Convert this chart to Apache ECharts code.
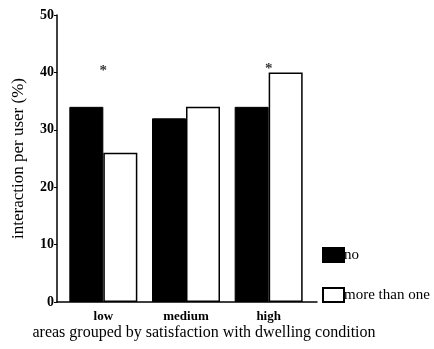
<!DOCTYPE html>
<html>
<head>
<meta charset="utf-8">
<script src="https://cdn.jsdelivr.net/npm/echarts@6/dist/echarts.min.js"></script>
<style>
  html, body { margin: 0; padding: 0; background: #fff; }
  #chart { width: 434px; height: 349px; }
</style>
</head>
<body>
<div id="chart"></div>
<script>
  // data
  var categories = ['low', 'medium', 'high']
  var noValues = [34, 32, 34]
  var moreValues = [26, 34, 40]
  var starValues = [40.9, null, 41.2]
  var yTicks = [0, 10, 20, 30, 40, 50]

  var serif = 'Liberation Serif, DejaVu Serif, serif'
  var chart = echarts.init(document.getElementById('chart'))

  chart.setOption({
    animation: false,
    textStyle: { fontFamily: serif, color: '#000' },
    grid: [
      { left: 62, right: 124, top: 15, bottom: 47 },
      { left: 57, right: 117, top: 15, bottom: 47 }
    ],
    legend: {
      orient: 'vertical',
      left: 322,
      top: 247,
      itemWidth: 21,
      itemHeight: 14,
      itemGap: 24,
      padding: 0,
      textStyle: { fontFamily: serif, fontSize: 15, color: '#000', padding: [0, 0, 0, -5] },
      data: [
        { name: 'no', icon: 'rect' },
        { name: 'more than one', icon: 'rect' }
      ]
    },
    xAxis: [{
      type: 'category',
      gridIndex: 0,
      data: categories,
      axisLine: { show: false },
      axisTick: { show: false },
      axisLabel: { fontFamily: serif, fontSize: 13, fontWeight: 'bold', color: '#000', margin: 8 }
    }, {
      type: 'value',
      gridIndex: 1,
      min: 0,
      max: 1,
      axisLine: { show: true, lineStyle: { color: '#000', width: 1.5 } },
      axisTick: { show: false },
      axisLabel: { show: false },
      splitLine: { show: false }
    }],
    yAxis: [{
      type: 'value',
      gridIndex: 0,
      min: yTicks[0],
      max: yTicks[yTicks.length - 1],
      interval: 10,
      offset: 5,
      name: 'interaction per user (%)',
      nameLocation: 'middle',
      nameGap: 30,
      nameTextStyle: { fontFamily: serif, fontSize: 17, color: '#000' },
      axisLine: { show: true, lineStyle: { color: '#000', width: 1.5 } },
      axisTick: { show: true, length: 3, lineStyle: { color: '#000' } },
      axisLabel: { fontFamily: serif, fontSize: 14, fontWeight: 'bold', color: '#000', margin: 3 },
      splitLine: { show: false }
    }, {
      type: 'value',
      gridIndex: 1,
      show: false
    }],
    title: {
      text: 'areas grouped by satisfaction with dwelling condition',
      left: 204,
      textAlign: 'center',
      top: 325,
      padding: 0,
      textStyle: { fontFamily: serif, fontSize: 16, fontWeight: 'normal', color: '#000' }
    },
    series: [{
      name: 'no',
      type: 'bar',
      barWidth: 34,
      barGap: '0%',
      data: noValues,
      itemStyle: { color: '#000', borderColor: '#000', borderWidth: 1 }
    }, {
      name: 'more than one',
      type: 'bar',
      barWidth: 34,
      barGap: '0%',
      data: moreValues,
      itemStyle: { color: '#fff', borderColor: '#000', borderWidth: 1.5 }
    }, {
      name: 'star',
      type: 'scatter',
      symbolSize: 1,
      itemStyle: { color: 'rgba(0,0,0,0)' },
      data: starValues.map(function (v, i) { return v == null ? null : [i, v] }),
      label: {
        show: true,
        position: 'inside',
        formatter: '*',
        fontFamily: serif,
        fontSize: 15,
        fontWeight: 'bold',
        color: '#000',
        offset: [0, 4]
      }
    }]
  })
</script>
</body>
</html>
